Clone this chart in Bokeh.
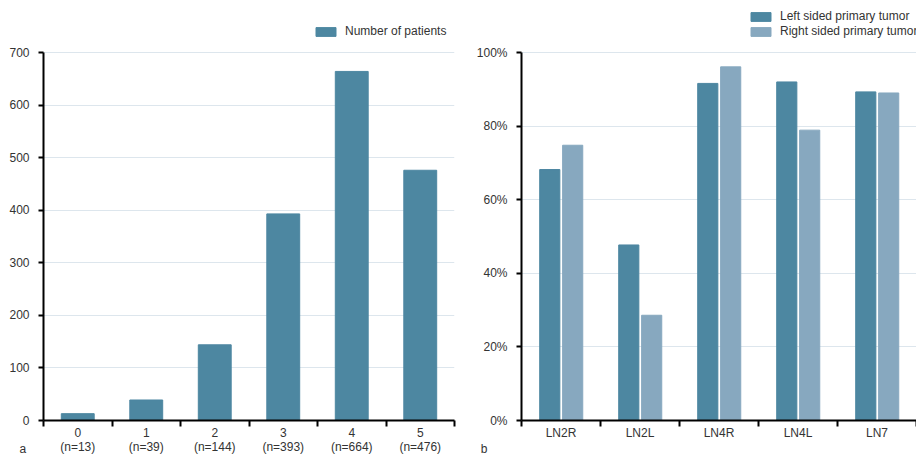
from bokeh.plotting import figure
from bokeh.models import (FactorRange, LinearAxis, FixedTicker, Range1d,
                          Legend, LegendItem, ColumnDataSource)
from bokeh.layouts import row
from bokeh.embed import file_html
from bokeh.resources import INLINE
from bokeh.transform import dodge

# ---- data ----
counts_cats = ["0\n(n=13)", "1\n(n=39)", "2\n(n=144)", "3\n(n=393)", "4\n(n=664)", "5\n(n=476)"]
patients = [13, 39, 144, 393, 664, 476]
count_ticks = [0, 100, 200, 300, 400, 500, 600, 700]

stations = ["LN2R", "LN2L", "LN4R", "LN4L", "LN7"]
left_sided = [68.2, 47.7, 91.6, 92.0, 89.3]
right_sided = [74.8, 28.6, 96.1, 78.9, 89.0]
pct_ticks = [0, 20, 40, 60, 80, 100]

DARK = "#4d87a1"
LIGHT = "#87a8bf"
GRID = "#dde6ed"
TXT = "#333333"
FONT = "Liberation Sans"
NB = "\u00a0"

H = 462
FRAME_H = 420          # frame from canvas top to x-axis
AXIS_H = 368           # pixel height of the value axis span
HEADROOM = FRAME_H / AXIS_H


def style(p, ticks, labels):
    p.outline_line_color = None
    p.background_fill_color = "white"
    p.border_fill_color = "white"
    p.ygrid.grid_line_color = GRID
    p.ygrid.bounds = (ticks[0], ticks[-1])
    ax = p.left[0]
    ax.bounds = (ticks[0], ticks[-1])
    ax.ticker = FixedTicker(ticks=ticks)
    ax.major_label_overrides = {t: lab for t, lab in zip(ticks, labels)}
    ax.axis_line_width = 2
    ax.axis_line_color = "black"
    ax.major_tick_line_color = "black"
    ax.major_tick_line_width = 2
    ax.major_tick_out = 5
    ax.major_tick_in = 0
    ax.minor_tick_line_color = None
    ax.major_label_text_font = FONT
    ax.major_label_text_font_size = "12px"
    ax.major_label_text_color = TXT
    ax.major_label_text_line_height = 1.02
    ax.major_label_standoff = 9


def bottom_axis(p, cats):
    n = len(cats)
    centers = [i + 0.5 for i in range(n)]
    ax = LinearAxis(ticker=FixedTicker(ticks=centers, minor_ticks=list(range(n + 1))),
                    major_label_overrides={c: lab for c, lab in zip(centers, cats)},
                    axis_line_width=2, axis_line_color="black",
                    major_tick_line_color=None,
                    minor_tick_line_width=2, minor_tick_line_color="black",
                    minor_tick_out=6, minor_tick_in=0,
                    major_label_text_font=FONT, major_label_text_font_size="12px",
                    major_label_text_color=TXT, major_label_text_line_height=1.0,
                    major_label_standoff=-1)
    p.add_layout(ax, "below")
    p.xgrid.ticker = FixedTicker(ticks=[n])
    p.xgrid.grid_line_color = GRID


def make_legend(items, loc):
    return Legend(items=items, location=loc, orientation="vertical", padding=0, margin=0,
                  glyph_width=25, glyph_height=11, label_height=11, label_standoff=7,
                  spacing=1, border_line_color=None, background_fill_alpha=0,
                  label_text_font=FONT, label_text_font_size="12px", label_text_color=TXT)


# ---- left panel ----
count_labels = [str(t) for t in count_ticks]
count_labels[0] = "\n\n0\n\na" + NB
src_a = ColumnDataSource(dict(cat=counts_cats, val=patients))
pa = figure(width=462, height=H, x_range=FactorRange(*counts_cats),
            y_range=Range1d(0, count_ticks[-1] * HEADROOM),
            output_backend="svg", toolbar_location=None, x_axis_location=None,
            min_border_left=43, min_border_right=8, min_border_top=0, min_border_bottom=42)
ra = pa.vbar(x="cat", top="val", width=0.48, source=src_a, color=DARK)
style(pa, count_ticks, count_labels)
bottom_axis(pa, counts_cats)
pa.add_layout(make_legend([LegendItem(label="Number of patients", renderers=[ra])], (270, 382)))

# ---- right panel ----
pct_labels = [f"{t}%" for t in pct_ticks]
pct_labels[0] = "\n\n0%\n\nb" + NB * 6
src_b = ColumnDataSource(dict(st=stations, l=left_sided, r=right_sided))
pb = figure(width=454, height=H, x_range=FactorRange(*stations),
            y_range=Range1d(0, pct_ticks[-1] * HEADROOM),
            output_backend="svg", toolbar_location=None, x_axis_location=None,
            min_border_left=59, min_border_right=0, min_border_top=0, min_border_bottom=42)
rl = pb.vbar(x=dodge("st", -0.142, range=pb.x_range), top="l", width=0.255, source=src_b, color=DARK)
rr = pb.vbar(x=dodge("st", 0.148, range=pb.x_range), top="r", width=0.255, source=src_b, color=LIGHT)
style(pb, pct_ticks, pct_labels)
bottom_axis(pb, stations)
pb.xgrid.grid_line_color = None
pb.add_layout(make_legend([LegendItem(label="Left sided primary tumor", renderers=[rl]),
                           LegendItem(label="Right sided primary tumor", renderers=[rr])],
                          (227, 382)))

layout = row(pa, pb)
open("out.html", "w").write(file_html(layout, INLINE))
